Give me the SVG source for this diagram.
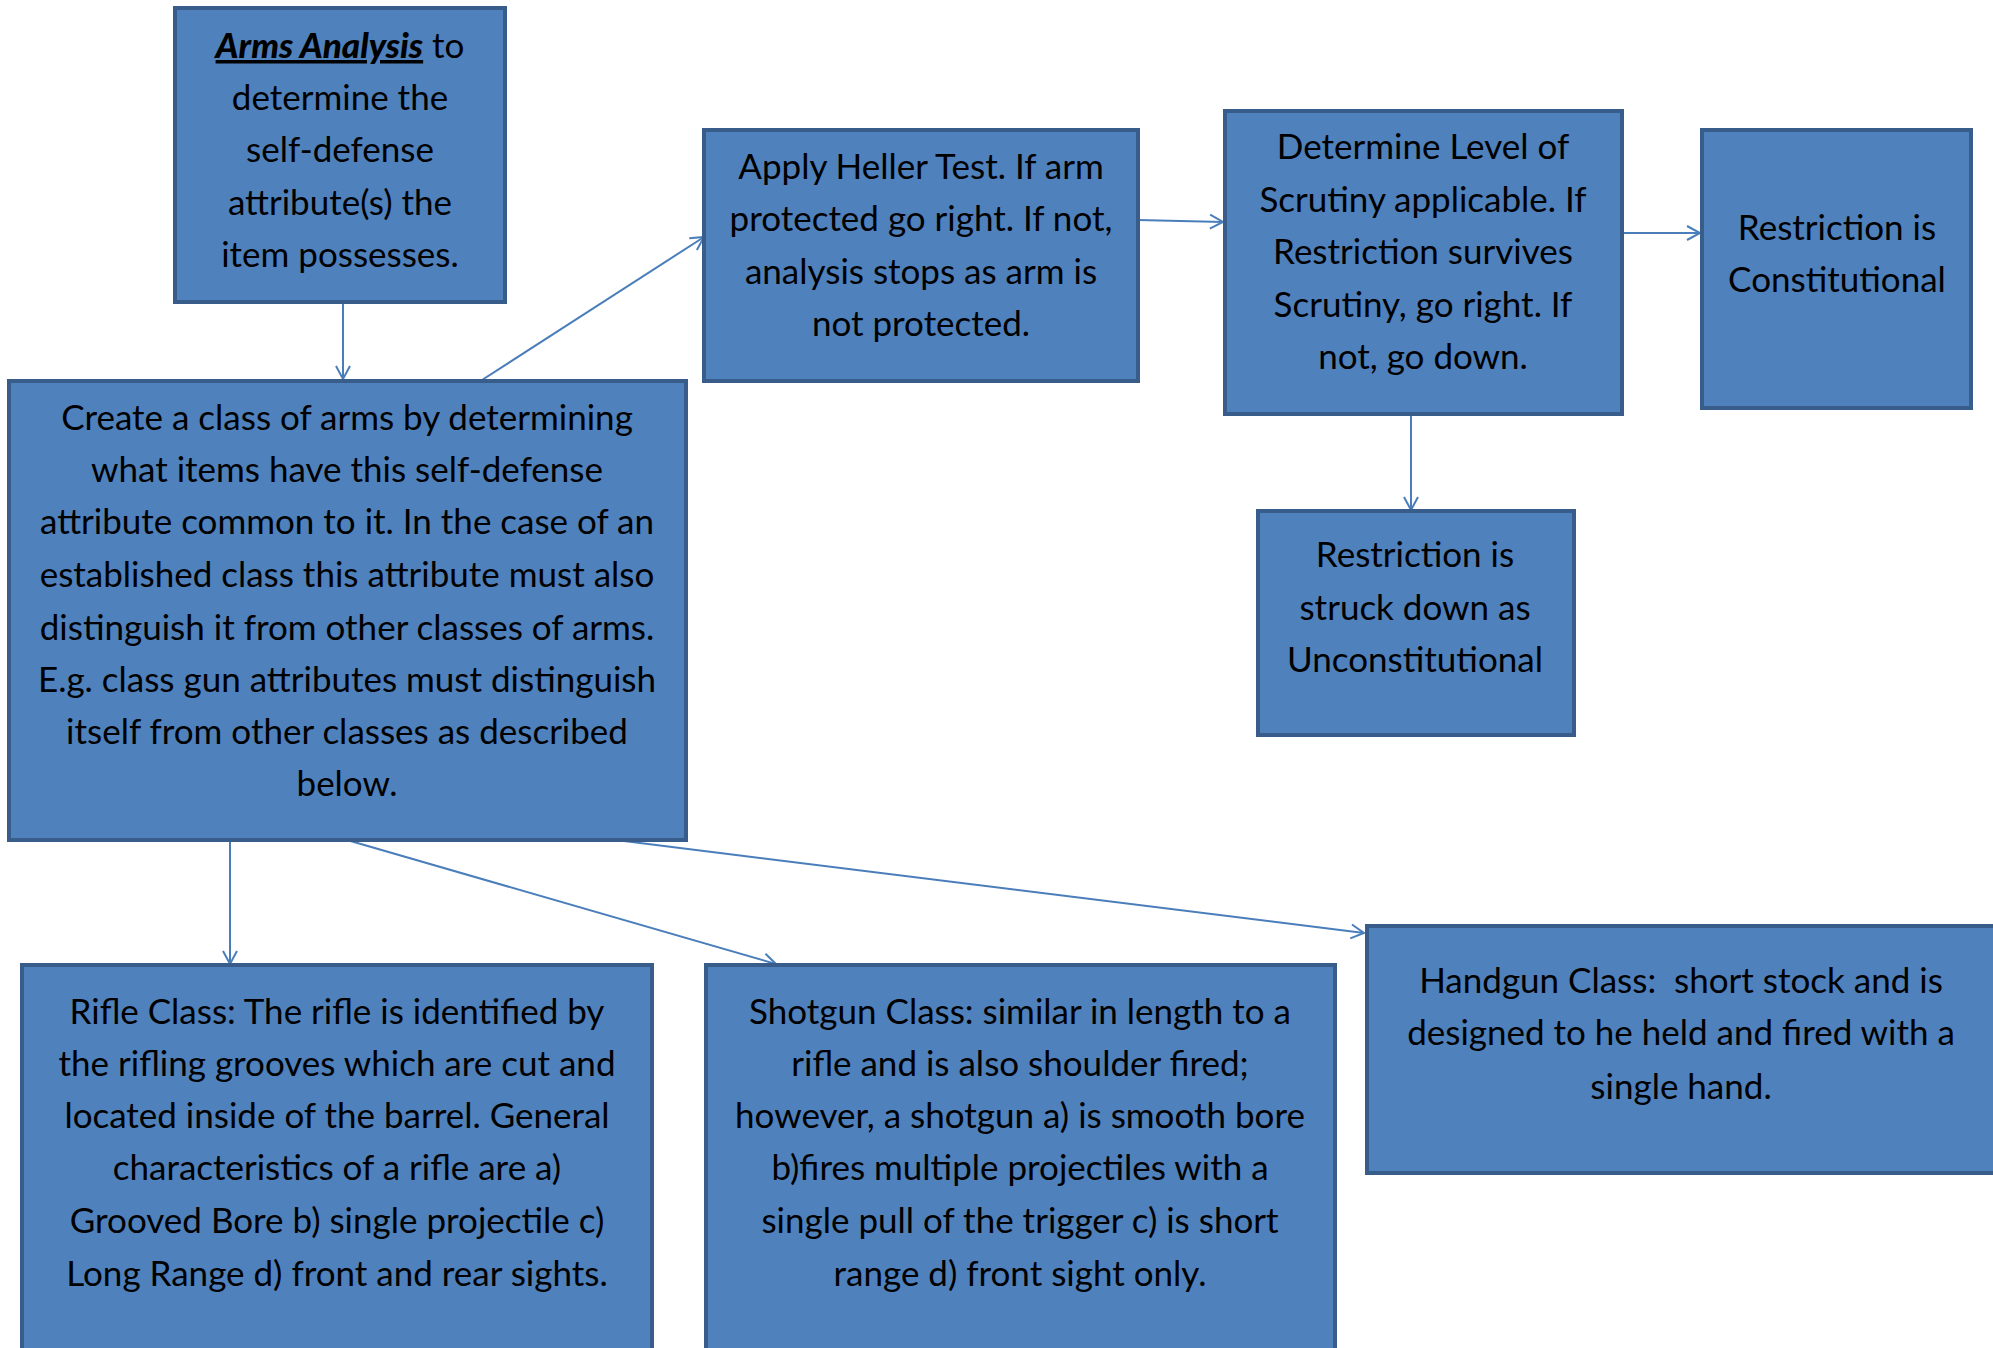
<svg xmlns="http://www.w3.org/2000/svg" width="1993" height="1348" viewBox="0 0 1993 1348">
<defs>
<style>
.box{fill:#4f81bd;stroke:#385d8a;stroke-width:4}
.t{font-family:Lato,"Open Sans",sans-serif;font-size:35px;fill:#000;text-anchor:middle;white-space:pre}
.c{fill:none;stroke:#4a7ebb;stroke-width:2}
</style>
<marker id="ah" markerUnits="userSpaceOnUse" markerWidth="20" markerHeight="20" refX="14" refY="8" orient="auto" viewBox="0 0 20 16">
<path d="M1,1 L14,8 L1,15" fill="none" stroke="#4a7ebb" stroke-width="2"/>
</marker>
</defs>
<rect width="1993" height="1348" fill="#fff"/>
<g id="connectors">
<line class="c" x1="343" y1="302" x2="343" y2="379" marker-end="url(#ah)"/>
<line class="c" x1="482" y1="380" x2="704" y2="237" marker-end="url(#ah)"/>
<line class="c" x1="1138" y1="220" x2="1223" y2="222" marker-end="url(#ah)"/>
<line class="c" x1="1622" y1="233" x2="1700" y2="233" marker-end="url(#ah)"/>
<line class="c" x1="1411" y1="414" x2="1411" y2="510" marker-end="url(#ah)"/>
<line class="c" x1="230" y1="840" x2="230" y2="964" marker-end="url(#ah)"/>
<line class="c" x1="347" y1="840" x2="776" y2="964" marker-end="url(#ah)"/>
<line class="c" x1="616" y1="840" x2="1364" y2="933" marker-end="url(#ah)"/>
</g>
<g id="arms-analysis">
<rect class="box" x="175" y="8" width="330" height="294"/>
<text class="t" x="340" y="58"><tspan font-weight="900" font-style="italic" text-decoration="underline">Arms Analysis</tspan> to</text>
<text class="t" x="340" y="110">determine the</text>
<text class="t" x="340" y="162">self-defense</text>
<text class="t" x="340" y="215">attribute(s) the</text>
<text class="t" x="340" y="267">item possesses.</text>
</g>
<g id="create-class">
<rect class="box" x="9" y="381" width="677" height="459"/>
<text class="t" x="347" y="430">Create a class of arms by determining</text>
<text class="t" x="347" y="482">what items have this self-defense</text>
<text class="t" x="347" y="534">attribute common to it. In the case of an</text>
<text class="t" x="347" y="587">established class this attribute must also</text>
<text class="t" x="347" y="640">distinguish it from other classes of arms.</text>
<text class="t" x="347" y="692">E.g. class gun attributes must distinguish</text>
<text class="t" x="347" y="744">itself from other classes as described</text>
<text class="t" x="347" y="796">below.</text>
</g>
<g id="heller-test">
<rect class="box" x="704" y="130" width="434" height="251"/>
<text class="t" x="921" y="179">Apply Heller Test. If arm</text>
<text class="t" x="921" y="231">protected go right. If not,</text>
<text class="t" x="921" y="284">analysis stops as arm is</text>
<text class="t" x="921" y="336">not protected.</text>
</g>
<g id="scrutiny">
<rect class="box" x="1225" y="111" width="397" height="303"/>
<text class="t" x="1423" y="159">Determine Level of</text>
<text class="t" x="1423" y="212">Scrutiny applicable. If</text>
<text class="t" x="1423" y="264">Restriction survives</text>
<text class="t" x="1423" y="317">Scrutiny, go right. If</text>
<text class="t" x="1423" y="369">not, go down.</text>
</g>
<g id="constitutional">
<rect class="box" x="1702" y="130" width="269" height="278"/>
<text class="t" x="1837" y="240">Restriction is</text>
<text class="t" x="1837" y="292">Constitutional</text>
</g>
<g id="unconstitutional">
<rect class="box" x="1258" y="511" width="316" height="224"/>
<text class="t" x="1415" y="567">Restriction is</text>
<text class="t" x="1415" y="620">struck down as</text>
<text class="t" x="1415" y="672">Unconstitutional</text>
</g>
<g id="rifle-class">
<rect class="box" x="22" y="965" width="630" height="400"/>
<text class="t" x="337" y="1024">Rifle Class: The rifle is identified by</text>
<text class="t" x="337" y="1076">the rifling grooves which are cut and</text>
<text class="t" x="337" y="1128">located inside of the barrel. General</text>
<text class="t" x="337" y="1180">characteristics of a rifle are a)</text>
<text class="t" x="337" y="1233">Grooved Bore b) single projectile c)</text>
<text class="t" x="337" y="1286">Long Range d) front and rear sights.</text>
</g>
<g id="shotgun-class">
<rect class="box" x="706" y="965" width="629" height="400"/>
<text class="t" x="1020" y="1024">Shotgun Class: similar in length to a</text>
<text class="t" x="1020" y="1076">rifle and is also shoulder fired;</text>
<text class="t" x="1020" y="1128">however, a shotgun a) is smooth bore</text>
<text class="t" x="1020" y="1180">b)fires multiple projectiles with a</text>
<text class="t" x="1020" y="1233">single pull of the trigger c) is short</text>
<text class="t" x="1020" y="1286">range d) front sight only.</text>
</g>
<g id="handgun-class">
<rect class="box" x="1367" y="926" width="632" height="247"/>
<text class="t" x="1681" y="993">Handgun Class:  short stock and is</text>
<text class="t" x="1681" y="1045">designed to he held and fired with a</text>
<text class="t" x="1681" y="1099">single hand.</text>
</g>
</svg>
